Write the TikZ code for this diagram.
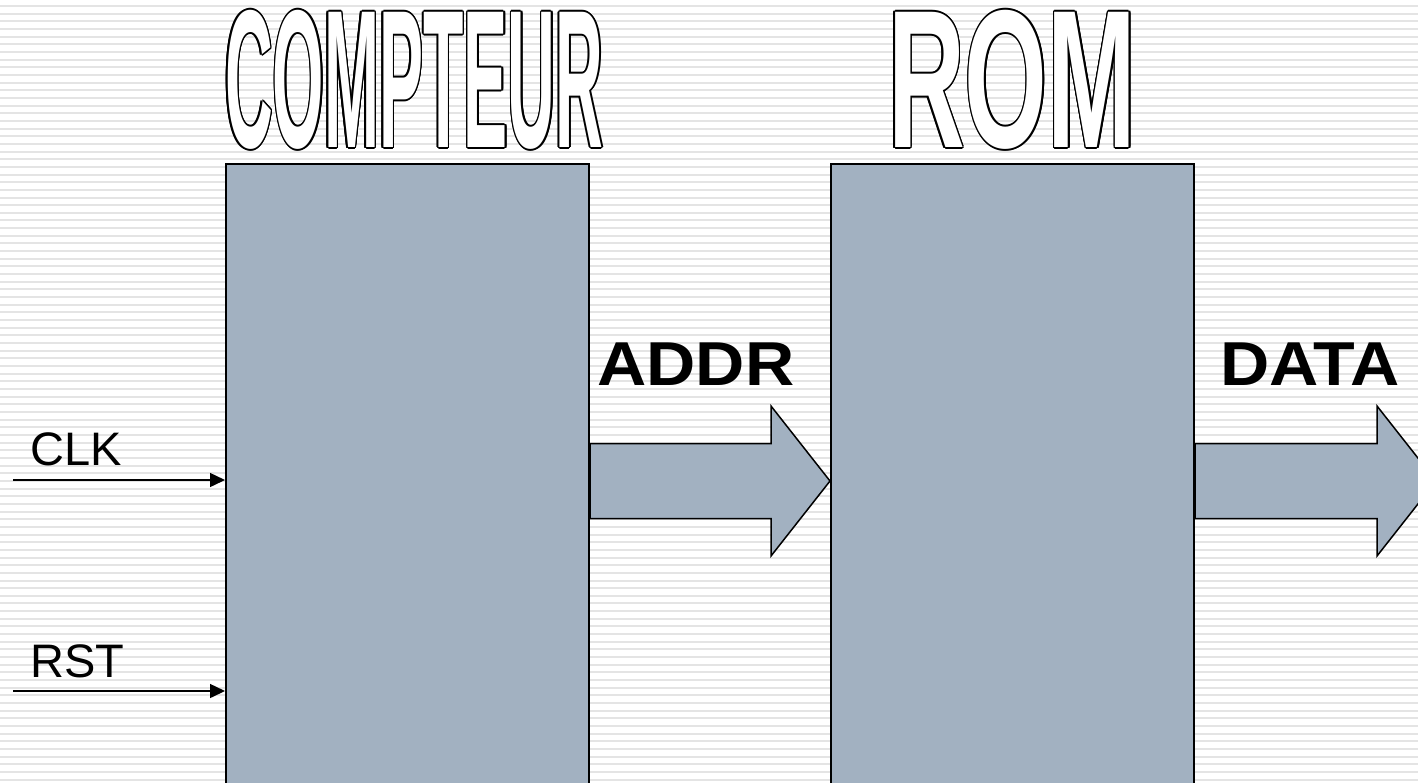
\documentclass[tikz,border=0pt]{standalone}
\usepackage{graphicx}
\usepackage{fontspec}
\setmainfont{Liberation Sans}
\usetikzlibrary{arrows.meta, calc, positioning}
\definecolor{boxgray}{HTML}{A2B1C1}
\definecolor{stripe}{HTML}{E4E4E4}

\tikzset{
    block/.style={draw=black, line width=2pt, fill=boxgray, inner sep=0pt,
        minimum width=363pt, minimum height=634pt, anchor=north west},
    bus/.style={draw=black, line width=1.5pt, fill=boxgray, line join=miter},
    sig/.style={line width=1.5pt, -{Triangle[length=15pt, width=14pt]}},
    pinlabel/.style={font=\fontsize{47}{56}\selectfont, anchor=base west, inner sep=0pt},
    buslabel/.style={font=\bfseries\fontsize{62}{74}\selectfont, anchor=base, inner sep=0pt},
    bigtitle/.style={font=\bfseries, anchor=north west, inner sep=0pt}
}

% hollow title: black copies all around, white copy on top
\newcommand{\hollow}[4]{%
    \foreach \a in {0,30,...,330}
        \node[bigtitle, text=black] at ($(#2)+(\a:1.6)$) {\resizebox{#3pt}{137pt}{#4}};
    \node[bigtitle, text=white] (#1) at (#2) {\resizebox{#3pt}{137pt}{#4}};
}
% wide bus arrow from #1 to the tip #2
\newcommand{\busarrow}[2]{%
    \draw[bus] ($(#1)+(0,-37.5)$) -- ($(#2)+(-59,-37.5)$) -- ($(#2)+(-59,-75)$)
        -- (#2) -- ($(#2)+(-59,75)$) -- ($(#2)+(-59,37.5)$) -- ($(#1)+(0,37.5)$) -- cycle;
}

\begin{document}
\begin{tikzpicture}[x=1pt, y=-1pt]
    \useasboundingbox (0,0) rectangle (1418,782);
    \clip (0,0) rectangle (1418,782);
    \fill[white] (0,0) rectangle (1418,782);
    % lined background
    \foreach \i in {0,...,101}
        \draw[stripe, line width=2pt] (0,6+7.66*\i) -- (1418,6+7.66*\i);

    \hollow{tcnt}{225,10}{378}{COMPTEUR}
    \hollow{trom}{888,10}{248}{ROM}

    \node[block] (cnt) at (225,163) {};
    \node[block] (rom) at (830,163) {};

    \coordinate (dout) at ($(rom.east)+(241,0)$);
    \busarrow{cnt.east}{rom.west}
    \busarrow{rom.east}{dout}
    \node[buslabel] (addr) at (696,385) {\scalebox{1.1}[1]{ADDR}};
    \node[buslabel] (data) at (1310,385) {\scalebox{1.1}[1]{DATA}};

    \coordinate (clkin) at (13,480);
    \coordinate (rstin) at (13,691);
    \draw[sig] (clkin) -- (clkin -| cnt.west);
    \draw[sig] (rstin) -- (rstin -| cnt.west);
    \node[pinlabel] (clk) at (30,465) {CLK};
    \node[pinlabel] (rst) at (30,677) {RST};
\end{tikzpicture}
\end{document}
